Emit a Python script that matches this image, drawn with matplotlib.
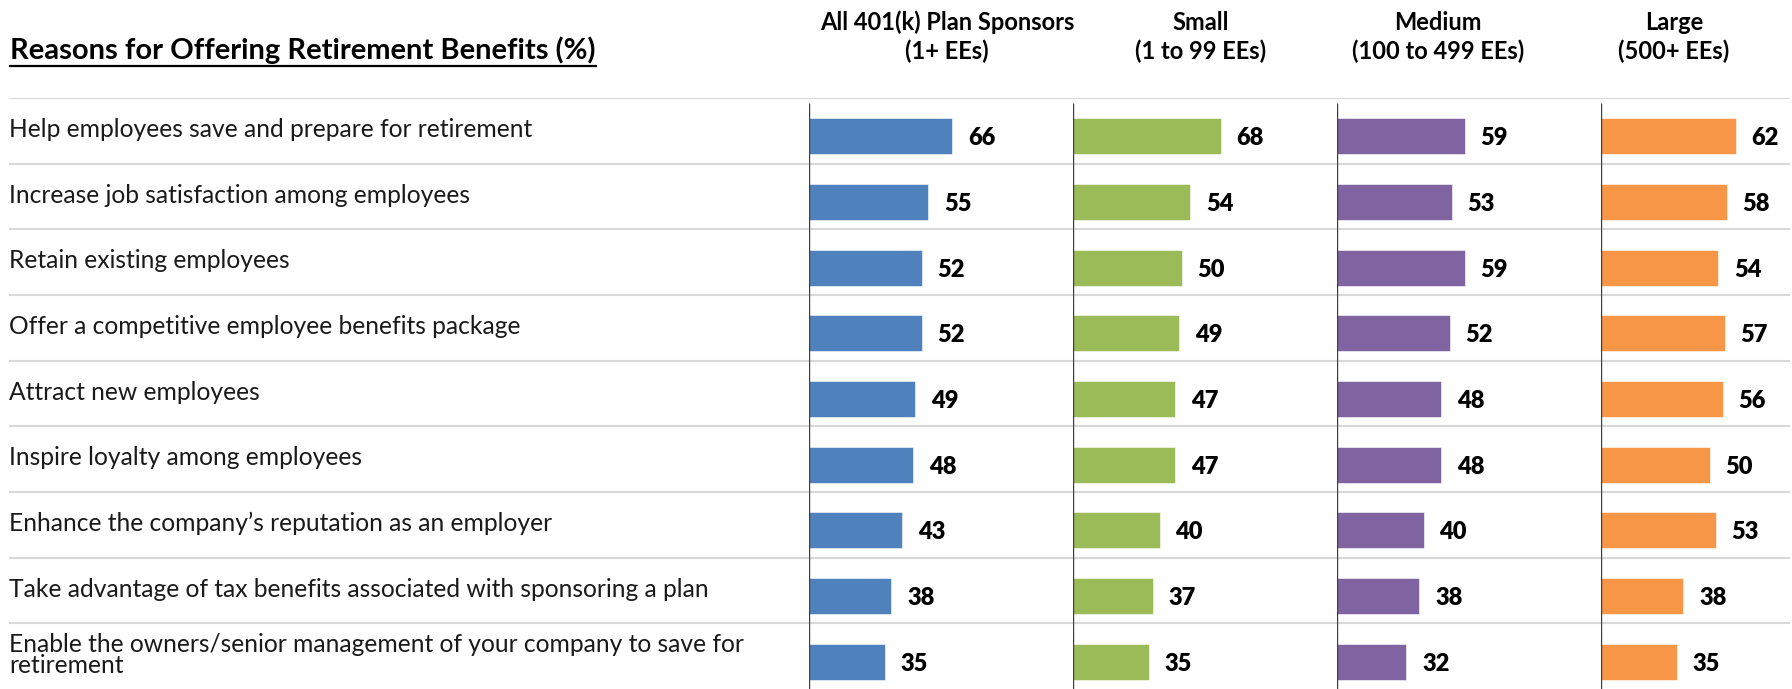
"""Reasons for offering retirement benefits, by plan sponsor size."""
import matplotlib

matplotlib.use("Agg")
import matplotlib.pyplot as plt
from matplotlib.lines import Line2D

plt.rcParams["font.family"] = ["Lato", "DejaVu Sans"]

categories = [
    "Help employees save and prepare for retirement",
    "Increase job satisfaction among employees",
    "Retain existing employees",
    "Offer a competitive employee benefits package",
    "Attract new employees",
    "Inspire loyalty among employees",
    "Enhance the company\u2019s reputation as an employer",
    "Take advantage of tax benefits associated with sponsoring a plan",
    "Enable the owners/senior management of your company to save for\nretirement",
]
group_labels = [
    "All 401(k) Plan Sponsors\n(1+ EEs)",
    "Small\n(1 to 99 EEs)",
    "Medium\n(100 to 499 EEs)",
    "Large\n(500+ EEs)",
]
all_sponsors = [66, 55, 52, 52, 49, 48, 43, 38, 35]
small = [68, 54, 50, 49, 47, 47, 40, 37, 35]
medium = [59, 53, 59, 52, 48, 48, 40, 38, 32]
large = [62, 58, 54, 57, 56, 50, 53, 38, 35]
colors = ["#4F81BD", "#9BBB59", "#8064A2", "#F79646"]
title = "Reasons for Offering Retirement Benefits (%)"

# layout in pixels of the 1792x689 output
W, H = 1792, 689
TOP = 98
N = len(categories)
AX_X = [809, 1073, 1337, 1601]
PX_PER_UNIT = 2.17
HEAD_X = [947, 1201, 1438, 1674]

fig = plt.figure(figsize=(W / 100, H / 100), dpi=100)

# row labels + separators
lab = fig.add_axes([9 / W, 0, (W - 11) / W, (H - TOP) / H])
lab.set_xlim(0, 1)
lab.set_ylim(N, 0)
lab.axis("off")
lab.hlines(range(N), 0, 1, color="#d9d9d9", lw=1.5)
for i, c in enumerate(categories):
    lab.text(0, i + 0.48, c, ha="left", va="center", fontsize=17.7,
             color="#1a1a1a", linespacing=0.92)

series = [all_sponsors, small, medium, large]
for k, vals in enumerate(series):
    left = AX_X[k]
    width = min(AX_X[k] + 264, W) - left
    ax = fig.add_axes([left / W, 0, width / W, (H - TOP) / H])
    ax.set_xlim(0, width / PX_PER_UNIT)
    ax.set_ylim(N, 0)
    ax.axis("off")
    ys = [i + 0.583 for i in range(N)]
    ax.barh(ys, vals, height=0.55, color=colors[k], edgecolor="white", linewidth=0.4)
    ax.vlines(0, 5 / ((H - TOP) / N), N, color="#404040", lw=1.0)
    for y, v in zip(ys, vals):
        ax.text(v + 7.2, y + 0.03, str(v), ha="left", va="center",
                fontsize=17, fontweight="heavy", color="black", clip_on=False)
    fig.text(HEAD_X[k] / W, 1 - 37 / H, group_labels[k], ha="center", va="center",
             fontsize=17, fontweight="bold", linespacing=1.3, multialignment="center")

t = fig.text(10 / W, 1 - 50 / H, title, ha="left", va="center",
             fontsize=21, fontweight="bold", color="black")
fig.canvas.draw()
bb = t.get_window_extent(fig.canvas.get_renderer())
fig.add_artist(Line2D([bb.x0 / W, bb.x1 / W], [(H - 66) / H, (H - 66) / H],
                      color="black", lw=1.6, transform=fig.transFigure))

fig.savefig("out.png", dpi=100)
